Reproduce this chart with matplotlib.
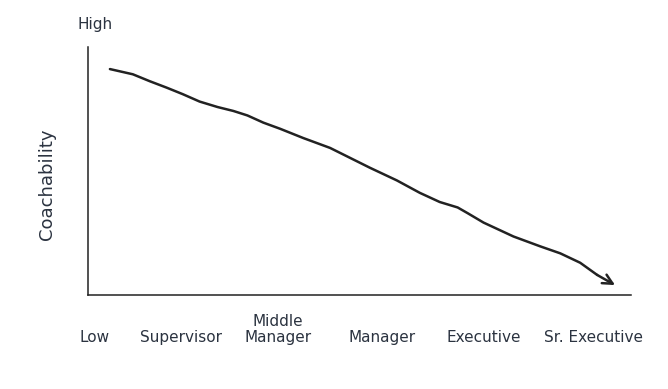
import matplotlib
matplotlib.use("Agg")
from matplotlib import pyplot as plt

# career levels along the x axis
LEVELS = ["Low", "Supervisor", "Middle\nManager", "Manager", "Executive", "Sr. Executive"]
LEVEL_POS = [0, 0.86, 1.84, 2.88, 3.9, 5.0]

# coachability curve (0 = low, 10 = high)
CURVE_X = [0.15, 0.38, 0.55, 0.72, 0.88, 1.05, 1.23, 1.39, 1.53, 1.69, 1.86,
           2.09, 2.36, 2.49, 2.76, 3.03, 3.26, 3.46, 3.64, 3.74, 3.9, 4.2,
           4.47, 4.67, 4.87, 5.04]
CURVE_Y = [9.11, 8.9, 8.62, 8.36, 8.1, 7.8, 7.58, 7.42, 7.24, 6.95, 6.7,
           6.33, 5.93, 5.67, 5.13, 4.62, 4.12, 3.75, 3.53, 3.3, 2.92, 2.36,
           1.96, 1.68, 1.3, 0.81]
ARROW_END = (5.22, 0.40)

TEXT = "#2b3340"

fig = plt.figure(figsize=(6.68, 3.89), dpi=100)
ax = fig.add_axes([88 / 668, 1 - 295 / 389, (631 - 88) / 668, (295 - 47) / 389])

ax.plot(CURVE_X, CURVE_Y, color="#222222", lw=1.8, solid_capstyle="round",
        solid_joinstyle="round")
ax.annotate("", xy=ARROW_END, xytext=(CURVE_X[-1], CURVE_Y[-1]),
            arrowprops=dict(arrowstyle="->,head_length=0.7,head_width=0.35",
                            color="#222222", lw=1.8, shrinkA=0, shrinkB=0))

ax.set_xlim(-0.07, 5.38)
ax.set_ylim(0, 10)

for side in ["top", "right"]:
    ax.spines[side].set_visible(False)
for side in ["left", "bottom"]:
    ax.spines[side].set_color("#222222")
    ax.spines[side].set_linewidth(1.1)

ax.set_yticks([])
ax.set_xticks(LEVEL_POS)
ax.set_xticklabels(LEVELS, fontsize=11, color=TEXT, linespacing=1.1)
ax.tick_params(axis="x", length=0, pad=36)
for lbl in ax.get_xticklabels():
    lbl.set_verticalalignment("bottom")

fig.text(95 / 668, 1 - 25 / 389, "High", ha="center", va="center",
         fontsize=11, color=TEXT)
fig.text(47 / 668, 1 - 184 / 389, "Coachability", rotation=90, ha="center",
         va="center", fontsize=13, color=TEXT)

fig.savefig("out.png", dpi=100)
